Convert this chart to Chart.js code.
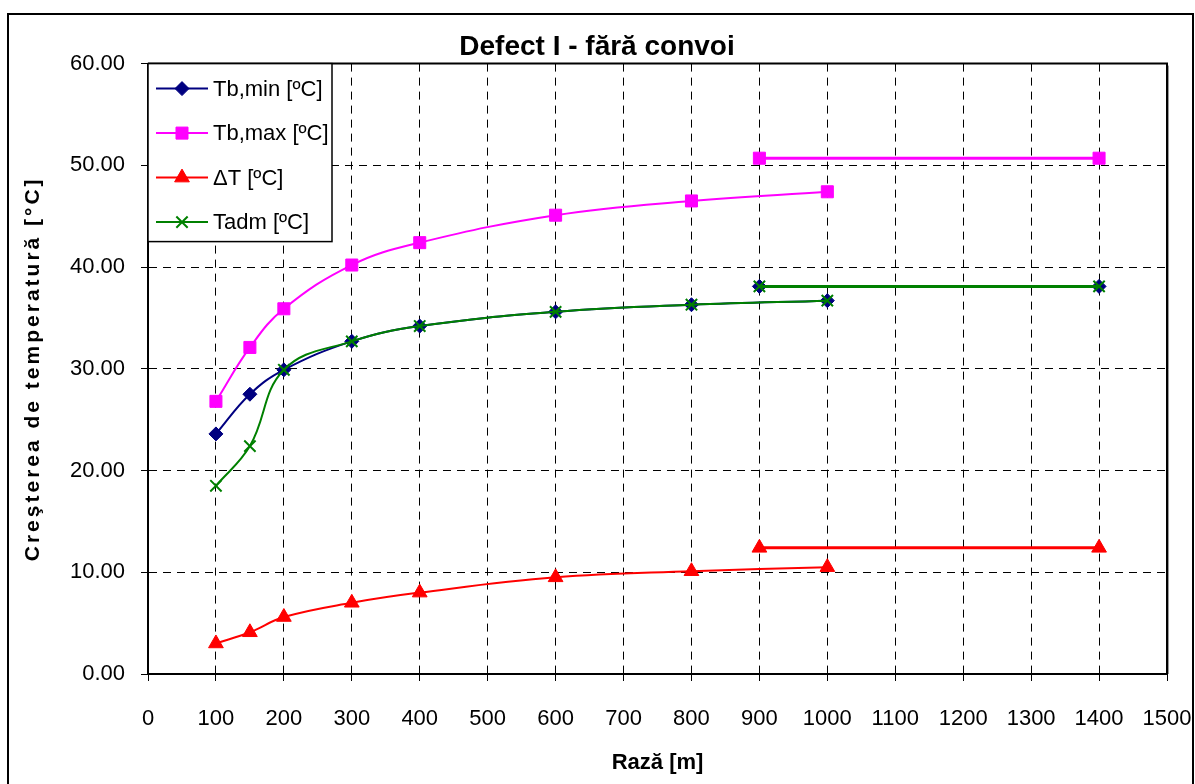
<!DOCTYPE html>
<html>
<head>
<meta charset="utf-8">
<title>Defect I - fără convoi</title>
<script src="https://cdn.jsdelivr.net/npm/chart.js@4/dist/chart.umd.min.js"></script>
<style>
  html, body { margin: 0; padding: 0; background: #fff; }
  #wrap { width: 1195px; height: 784px; position: relative; }
</style>
</head>
<body>
<div id="wrap"><canvas id="chart" width="1195" height="784"></canvas></div>
<script>
// Raza [m] for the measured curves
const radii = [100, 150, 200, 300, 400, 600, 800, 1000];
const tbMin = [23.6, 27.5, 29.9, 32.7, 34.2, 35.6, 36.3, 36.7];
const tbMax = [26.8, 32.1, 35.9, 40.2, 42.4, 45.1, 46.5, 47.4];
const deltaT = [3.0, 4.1, 5.6, 7.0, 8.0, 9.5, 10.1, 10.5];
const tAdm = [18.5, 22.4, 29.9, 32.7, 34.2, 35.6, 36.3, 36.7];

// separate horizontal segment (900 .. 1400 m)
const radiiFlat = [900, 1400];
const tbMinFlat = [38.1, 38.1];
const tbMaxFlat = [50.7, 50.7];
const deltaTFlat = [12.4, 12.4];
const tAdmFlat = [38.1, 38.1];

const xTicks = [0, 100, 200, 300, 400, 500, 600, 700, 800, 900, 1000, 1100, 1200, 1300, 1400, 1500];
const yTicks = [0, 10, 20, 30, 40, 50, 60];

const FONT = "'Liberation Sans', Arial, sans-serif";
const Y_TITLE = 'Creşterea de temperatură [°C]';

const pts = (xs, ys) => xs.map((x, i) => ({ x, y: ys[i] }));

const series = [
  { label: 'Tb,min [ºC]', data: tbMin, flat: tbMinFlat, color: '#000080', style: 'rectRot', r: 7, bw: 1, order: 3 },
  { label: 'Tb,max [ºC]', data: tbMax, flat: tbMaxFlat, color: '#ff00ff', style: 'rect', r: 8.5, bw: 1, order: 2 },
  { label: 'ΔT [ºC]', data: deltaT, flat: deltaTFlat, color: '#ff0000', style: 'triangle', r: 8.5, bw: 1, order: 1 },
  { label: 'Tadm [ºC]', data: tAdm, flat: tAdmFlat, color: '#008000', style: 'crossRot', r: 8, bw: 2, order: 0 }
];

const datasets = [];
series.forEach(s => {
  datasets.push({
    label: s.label,
    data: pts(radii, s.data),
    borderColor: s.color,
    backgroundColor: s.color,
    borderWidth: 2,
    tension: 0.4,
    pointStyle: s.style,
    pointRadius: s.r,
    pointHoverRadius: s.r,
    pointBorderWidth: s.bw,
    order: s.order
  });
  datasets.push({
    label: s.label + ' (900-1400)',
    data: pts(radiiFlat, s.flat),
    borderColor: s.color,
    backgroundColor: s.color,
    borderWidth: 3,
    tension: 0,
    pointStyle: s.style,
    pointRadius: s.r,
    pointHoverRadius: s.r,
    pointBorderWidth: s.bw,
    order: s.order
  });
});

// white page, outer frame, plot border and spaced-out y title
const framePlugin = {
  id: 'frame',
  beforeDraw(chart) {
    const ctx = chart.ctx;
    ctx.save();
    ctx.fillStyle = '#fff';
    ctx.fillRect(0, 0, chart.width, chart.height);
    ctx.strokeStyle = '#000';
    ctx.lineWidth = 2;
    ctx.strokeRect(8, 14, 1185, 800);
    ctx.restore();
  },
  afterDraw(chart) {
    const { ctx, chartArea: a } = chart;
    ctx.save();
    ctx.strokeStyle = '#000';
    ctx.lineWidth = 2;
    ctx.beginPath();
    ctx.moveTo(a.left, a.top);
    ctx.lineTo(a.right, a.top);
    ctx.lineTo(a.right, a.bottom);
    ctx.stroke();
    ctx.strokeStyle = '#999';
    ctx.lineWidth = 1;
    ctx.beginPath();
    ctx.moveTo(a.right + 1.5, a.top + 2);
    ctx.lineTo(a.right + 1.5, a.bottom);
    ctx.stroke();

    ctx.translate(33, (a.top + a.bottom) / 2);
    ctx.rotate(-Math.PI / 2);
    ctx.fillStyle = '#000';
    ctx.font = 'bold 21px ' + FONT;
    ctx.letterSpacing = '3px';
    ctx.textAlign = 'center';
    ctx.textBaseline = 'middle';
    ctx.fillText(Y_TITLE, 0, 0);
    ctx.restore();
  }
};

// legend box in the top-left corner of the plot
const legendBox = {
  id: 'legendBox',
  afterDraw(chart) {
    const { ctx, chartArea: a } = chart;
    const x0 = a.left, y0 = a.top;
    ctx.save();
    ctx.fillStyle = '#fff';
    ctx.fillRect(x0, y0, 184, 178);
    ctx.strokeStyle = '#000';
    ctx.lineWidth = 1.5;
    ctx.strokeRect(x0, y0, 184, 178);
    series.forEach((s, i) => {
      const y = y0 + 25 + i * 44.5;
      ctx.strokeStyle = s.color;
      ctx.lineWidth = 2;
      ctx.beginPath();
      ctx.moveTo(x0 + 8, y);
      ctx.lineTo(x0 + 60, y);
      ctx.stroke();
      ctx.fillStyle = s.color;
      ctx.lineWidth = s.bw;
      Chart.helpers.drawPoint(ctx, { pointStyle: s.style, radius: s.r, rotation: 0, borderWidth: s.bw }, x0 + 34, y);
      ctx.fillStyle = '#000';
      ctx.font = '22px ' + FONT;
      ctx.textBaseline = 'middle';
      ctx.textAlign = 'left';
      ctx.fillText(s.label, x0 + 65, y + 1);
    });
    ctx.restore();
  }
};

new Chart(document.getElementById('chart'), {
  type: 'line',
  data: { datasets },
  plugins: [framePlugin, legendBox],
  options: {
    responsive: false,
    animation: false,
    events: [],
    layout: { padding: { left: 27, top: 14, right: 28, bottom: 0 } },
    plugins: {
      legend: { display: false },
      tooltip: { enabled: false },
      title: {
        display: true,
        text: 'Defect I - fără convoi',
        color: '#000',
        font: { family: FONT, size: 28, weight: 'bold' },
        padding: { top: 16, bottom: 0 }
      }
    },
    scales: {
      x: {
        type: 'linear',
        min: 0,
        max: 1500,
        afterBuildTicks: sc => { sc.ticks = xTicks.map(v => ({ value: v })); },
        afterFit: sc => { sc.height = 110; sc.paddingLeft = 0; sc.paddingRight = 0; },
        ticks: { color: '#000', font: { family: FONT, size: 22 }, padding: 25, maxRotation: 0, autoSkip: false, callback: v => String(v) },
        grid: { color: '#000', lineWidth: 1, tickLength: 7, tickBorderDash: [], tickColor: '#000' },
        border: { display: true, color: '#000', width: 2, dash: [8, 6] },
        title: {
          display: true,
          text: 'Rază [m]',
          color: '#000',
          font: { family: FONT, size: 22, weight: 'bold' },
          padding: { top: 0, bottom: 8 }
        }
      },
      y: {
        min: 0,
        max: 60,
        afterBuildTicks: sc => { sc.ticks = yTicks.map(v => ({ value: v })); },
        afterFit: sc => { sc.width = 121; },
        ticks: { color: '#000', font: { family: FONT, size: 22 }, padding: 16, callback: v => v.toFixed(2) },
        grid: { color: '#000', lineWidth: 1, tickLength: 7, tickBorderDash: [], tickColor: '#000' },
        border: { display: true, color: '#000', width: 2, dash: [8, 6] },
        title: { display: false }
      }
    }
  }
});
</script>
</body>
</html>
